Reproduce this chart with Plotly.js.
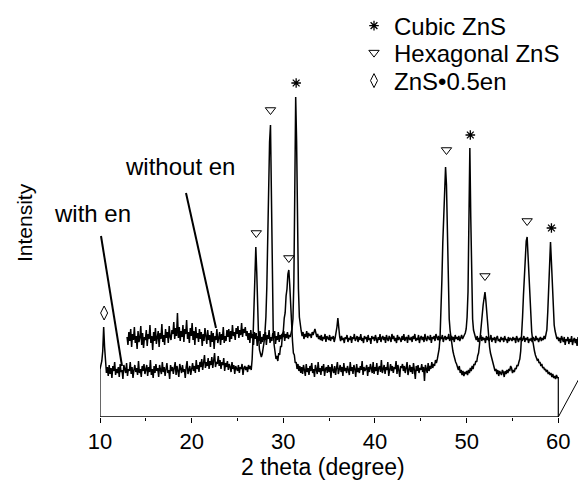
<!DOCTYPE html>
<html>
<head>
<meta charset="utf-8">
<script src="https://cdn.plot.ly/plotly-3.0.1.min.js"></script>
<style>html,body{margin:0;padding:0;background:#fff;}#chart{width:578px;height:481px;}</style>
</head>
<body>
<div id="chart"></div>
<script>
// 2 theta sampling (degrees)
const twoThetaStart = 10.0;
const twoThetaStep = 0.1;

// Intensity (a.u.), sample prepared WITH ethylenediamine, 10.0 .. 60.0 deg
const withEnIntensity = [
48,53,56,66,90,70,54,44,50,41,
52,43,49,39,51,46,55,42,48,44,
50,40,53,45,47,38,52,49,44,54,
41,48,46,55,43,50,39,47,52,45,
49,42,56,44,48,40,51,46,53,43,
47,52,41,50,45,57,42,48,39,51,
44,53,46,49,40,52,47,43,55,45,
50,41,48,54,44,47,38,52,46,50,
43,49,55,42,51,46,40,53,47,44,
52,45,48,39,50,56,43,47,51,42,
49,54,46,51,44,57,48,52,45,55,
50,58,47,53,62,49,55,51,59,48,
56,52,60,49,57,64,50,55,53,61,
51,57,48,55,52,59,46,54,50,56,
47,53,50,45,55,48,52,43,51,49,
46,52,44,50,48,53,42,49,51,47,
50,45,52,48,51,47,58,80,118,150,
170,145,105,80,67,61,60,63,68,75,
85,100,130,180,240,275,292,200,120,85,
72,66,58,61,56,64,62,71,70,82,
86,99,104,121,128,143,147,132,112,86,
76,64,62,54,55,48,53,46,51,44,
50,43,52,47,41,53,45,49,42,51,
46,54,44,48,40,52,47,43,55,45,
49,42,51,46,53,41,48,50,44,52,
45,50,39,53,47,44,51,42,49,55,
43,48,52,45,50,41,54,46,49,44,
51,47,42,55,46,50,43,52,48,40,
53,45,49,44,51,47,56,42,50,46,
48,52,41,50,45,53,47,44,55,43,
50,46,54,42,49,51,45,57,44,48,
52,43,50,47,55,41,49,53,46,51,
44,50,48,56,43,52,47,40,51,49,
53,46,51,44,49,55,42,48,52,45,
50,43,54,47,38,51,46,52,44,49,
47,53,45,50,36,52,48,44,54,46,
51,48,55,49,53,51,57,54,58,62,
68,80,102,137,175,205,235,250,232,190,
128,98,86,77,72,66,62,57,55,53,
50,47,51,44,47,42,46,41,45,43,
46,42,47,44,49,46,51,48,53,52,
56,55,61,64,72,80,90,102,112,121,
125,116,102,88,78,70,64,60,55,53,
50,46,48,43,47,41,46,44,42,47,
45,40,46,43,47,44,48,46,51,49,
44,47,45,49,48,52,51,55,58,66,
80,100,122,145,163,176,180,160,135,115,
98,85,77,70,66,62,60,57,58,54,
55,51,53,49,50,47,48,45,47,43,
45,42,44,40,43,39,41,38,42,39,
40
];

// Intensity (a.u.), sample prepared WITHOUT ethylenediamine, 10.0 .. 59.5 deg
const withoutEnIntensity = [
30,22,35,26,38,20,33,27,40,24,
31,18,36,25,29,41,22,34,19,30,
27,37,21,33,28,42,24,31,17,35,
26,39,23,30,36,20,34,28,43,25,
32,22,38,29,35,24,41,30,27,37,
33,45,28,39,31,54,29,40,26,36,
30,42,25,38,33,47,28,35,24,39,
31,44,27,36,22,40,29,34,25,38,
28,35,21,33,26,39,30,23,37,27,
32,20,36,25,34,18,31,27,38,24,
29,35,22,33,27,40,24,31,26,37,
30,38,25,36,28,42,31,35,27,39,
33,41,29,37,32,44,30,38,34,40,
31,36,27,34,24,37,29,33,22,35,
28,34,21,31,26,36,23,30,25,33,
27,35,22,32,28,37,24,30,26,34,
29,36,23,31,27,35,25,32,28,33,
30,36,26,33,29,35,28,32,30,34,
38,48,85,175,270,225,140,78,50,40,
36,31,35,28,33,30,36,29,34,31,
33,29,35,32,37,38,34,30,33,28,
31,27,32,26,30,28,33,25,31,29,
27,32,26,30,28,31,25,29,33,40,
49,37,30,26,31,27,29,24,30,28,
32,25,29,27,31,24,30,28,33,26,
29,31,25,30,27,33,26,29,24,31,
28,30,25,32,27,29,23,31,28,30,
26,32,28,24,30,27,33,25,29,31,
27,30,24,32,28,26,31,29,25,33,
28,31,26,29,24,32,27,30,28,25,
31,27,33,26,29,30,24,32,28,27,
30,25,31,28,33,26,29,27,32,24,
29,31,27,30,25,33,28,26,31,29,
27,32,24,30,28,31,26,33,29,27,
31,26,30,28,32,25,29,31,27,30,
28,33,26,29,31,27,30,25,32,28,
30,27,31,26,29,32,28,30,33,34,
38,50,75,130,219,150,80,48,37,32,
30,27,31,25,29,28,32,26,30,27,
29,24,31,27,30,26,28,32,25,29,
27,30,24,29,31,26,28,25,30,27,
29,25,31,27,28,24,30,26,29,28,
26,30,27,29,24,31,28,25,29,27,
30,26,28,31,25,29,27,30,24,28,
27,29,25,30,28,26,31,27,29,25,
28,30,26,29,27,31,28,32,37,55,
87,115,125,105,80,55,42,36,31,28,
30,26,29,24,31,27,25,30,22,28,
26,30,23,28,25,31,22,27,29,24,
28,21,30,25,27,23
];

// Phase marks: peak position (2 theta) and height of the mark (a.u.)
const hexPeakTheta   = [27.05, 28.6, 30.6, 47.8, 52.0, 56.6];
const hexMarkHeight  = [184, 307, 159, 267, 141, 196];
const cubicPeakTheta = [28.45, 47.45, 56.3];
const cubicMarkHeight= [284, 232, 139];
const enPeakTheta    = [10.45];
const enMarkHeight   = [104];

// legend names / labels
const phaseNames = ['Cubic ZnS', 'Hexagonal ZnS', 'ZnS\u20220.5en'];
const sampleNames = ['with en', 'without en'];

// ---- layout constants (pixels) ----
const W = 578, H = 481;
const ML = 100, MR = 0, MT = 0, MB = 64;
const PW = W - ML - MR, PH = H - MT - MB;
const pxPerDeg = 9.166;
const xMin = 10, xMax = xMin + PW / pxPerDeg;
const yMin = 0, yMax = PH;          // intensity units
const offDeg = 2.95, offInt = 50;   // pseudo-3D offset of the back pattern
const FONT = 'Liberation Sans, Arial, Helvetica, sans-serif';

const px = v => (v - ML) / PW;          // pixel x -> paper
const py = v => (H - MB - v) / PH;      // pixel y -> paper

const nW = withEnIntensity.length;
const xEndWith = twoThetaStart + (nW - 1) * twoThetaStep;

const traces = [
  {x0: twoThetaStart, dx: twoThetaStep, y: withEnIntensity, type: 'scatter', mode: 'lines',
   line: {color: '#000', width: 1.5}, showlegend: false, name: sampleNames[0], hoverinfo: 'skip'},
  {x0: twoThetaStart, dx: twoThetaStep, y: withoutEnIntensity, type: 'scatter', mode: 'lines',
   xaxis: 'x2', yaxis: 'y2', line: {color: '#000', width: 1.5}, showlegend: false, name: sampleNames[1], hoverinfo: 'skip'},
  {x: cubicPeakTheta, y: cubicMarkHeight, xaxis: 'x2', yaxis: 'y2', type: 'scatter', mode: 'markers',
   name: phaseNames[0], legend: 'legend',
   marker: {symbol: 'asterisk-open', size: 8, color: '#000', line: {color: '#000', width: 1.3}}},
  {x: hexPeakTheta, y: hexMarkHeight, type: 'scatter', mode: 'markers',
   name: phaseNames[1], legend: 'legend2',
   marker: {symbol: 'triangle-down-open', size: 9, color: '#000', line: {color: '#000', width: 1}}},
  {x: enPeakTheta, y: enMarkHeight, type: 'scatter', mode: 'markers',
   name: phaseNames[2], legend: 'legend3',
   marker: {symbol: 'diamond-tall-open', size: 10, color: '#000', line: {color: '#000', width: 1}}}
];

const legBase = {xanchor: 'left', yanchor: 'middle', bgcolor: 'rgba(0,0,0,0)', borderwidth: 0,
  font: {family: FONT, size: 24, color: '#000'}, itemwidth: 30};

const layout = {
  width: W, height: H,
  margin: {l: ML, r: MR, t: MT, b: MB, pad: 0},
  paper_bgcolor: '#fff', plot_bgcolor: '#fff',
  font: {family: FONT, color: '#000'},
  xaxis: {range: [xMin, xMax], tickmode: 'linear', tick0: 10, dtick: 10,
    ticks: 'outside', ticklen: 5, tickwidth: 1, tickcolor: '#000',
    minor: {dtick: 5, ticks: 'outside', ticklen: 3, tickwidth: 1, tickcolor: '#000', showgrid: false},
    showline: false, zeroline: false, showgrid: false,
    tickfont: {family: FONT, size: 22, color: '#000'}, fixedrange: true},
  yaxis: {range: [yMin, yMax], visible: false, fixedrange: true},
  xaxis2: {overlaying: 'x', range: [xMin - offDeg, xMax - offDeg], visible: false},
  yaxis2: {overlaying: 'y', range: [yMin - offInt, yMax - offInt], visible: false},
  legend: Object.assign({}, legBase, {x: px(354), y: py(26)}),
  legend2: Object.assign({}, legBase, {x: px(354), y: py(53)}),
  legend3: Object.assign({}, legBase, {x: px(354), y: py(81)}),
  shapes: [
    // front x axis line
    {type: 'line', xref: 'x', yref: 'y', x0: 10, x1: 60, y0: 0, y1: 0, line: {color: '#000', width: 1.3}},
    // front pattern edges dropping to the axis
    {type: 'line', xref: 'x', yref: 'y', x0: twoThetaStart, x1: twoThetaStart, y0: 0, y1: withEnIntensity[0], line: {color: '#000', width: 1.2}},
    {type: 'line', xref: 'x', yref: 'y', x0: xEndWith, x1: xEndWith, y0: 0, y1: withEnIntensity[nW - 1], line: {color: '#000', width: 1.2}},
    // oblique depth axis
    {type: 'line', xref: 'x', yref: 'y', x0: 60, x1: 60 + offDeg, y0: 0, y1: offInt, line: {color: '#000', width: 1}},
    // label pointers
    {type: 'line', xref: 'paper', yref: 'paper', x0: px(101), y0: py(236), x1: px(122), y1: py(366), line: {color: '#000', width: 2}},
    {type: 'line', xref: 'paper', yref: 'paper', x0: px(186), y0: py(193), x1: px(216), y1: py(328), line: {color: '#000', width: 2}}
  ],
  annotations: [
    {text: sampleNames[0], xref: 'paper', yref: 'paper', x: px(92), y: py(214), xanchor: 'center', yanchor: 'middle',
     showarrow: false, font: {family: FONT, size: 24, color: '#000'}},
    {text: sampleNames[1], xref: 'paper', yref: 'paper', x: px(180), y: py(166), xanchor: 'center', yanchor: 'middle',
     showarrow: false, font: {family: FONT, size: 24, color: '#000'}},
    {text: '2 theta (degree)', xref: 'paper', yref: 'paper', x: px(323), y: py(467), xanchor: 'center', yanchor: 'middle',
     showarrow: false, font: {family: FONT, size: 23, color: '#000'}},
    {text: 'Intensity', xref: 'paper', yref: 'paper', x: px(24), y: py(223), xanchor: 'center', yanchor: 'middle',
     textangle: -90, showarrow: false, font: {family: FONT, size: 21, color: '#000'}}
  ]
};

Plotly.newPlot('chart', traces, layout, {staticPlot: true, displayModeBar: false});
</script>
</body>
</html>
